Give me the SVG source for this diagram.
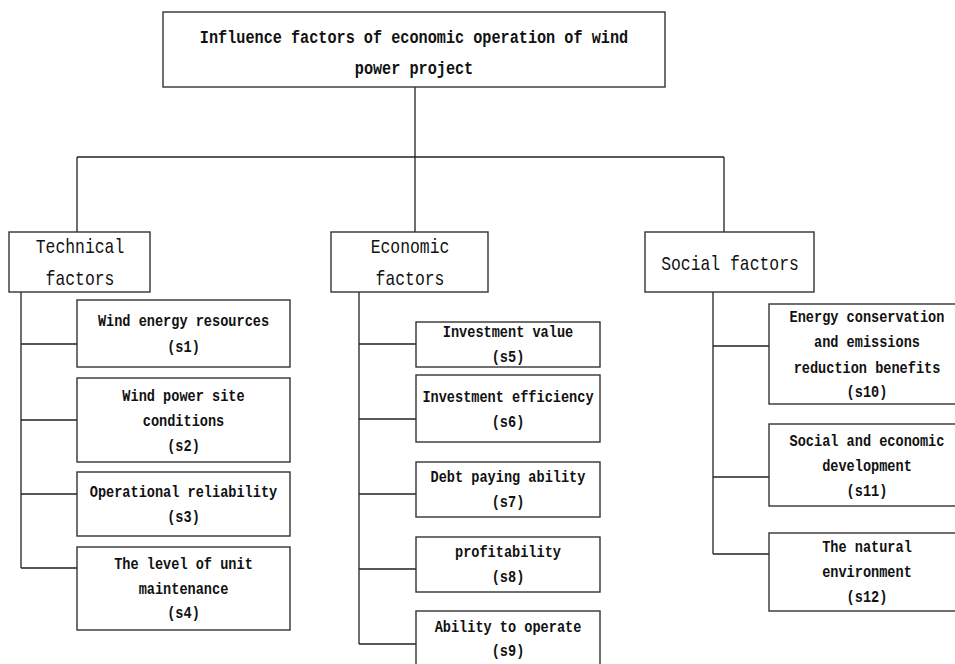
<svg xmlns="http://www.w3.org/2000/svg" width="955" height="664" viewBox="0 0 955 664">
<style>
.box { fill: #fff; stroke: #333; stroke-width: 1.4; }
.con { fill: none; stroke: #222; stroke-width: 1.3; }
text { font-family: "Liberation Mono", "DejaVu Sans Mono", monospace; text-anchor: middle; dominant-baseline: central; fill: #111; transform-box: fill-box; transform-origin: center; transform: scaleX(0.8); }
.s { font-size: 17px; font-weight: bold; }
.h { font-size: 19px; font-weight: bold; }
.c { font-size: 20.5px; }
</style>
<rect width="955" height="664" fill="#fff"/>
<g id="connectors" class="con">
  <path d="M415,87 V157 M77,157 H724 M77,157 V232 M415,157 V232 M724,157 V232"/>
  <path d="M21,292 V568 M21,344 H77 M21,420 H77 M21,494 H77 M21,568 H77"/>
  <path d="M359,292 V644 M359,344 H416 M359,419 H416 M359,494 H416 M359,569 H416 M359,644 H416"/>
  <path d="M713,292 V554 M713,346 H769 M713,477 H769 M713,554 H769"/>
</g>
<g id="root">
  <rect class="box" x="163" y="12" width="502" height="75"/>
  <text class="h" x="414" y="38">Influence factors of economic operation of wind</text>
  <text class="h" x="414" y="69">power project</text>
</g>
<g id="technical">
  <rect class="box" x="9" y="232" width="141" height="60"/>
  <text class="c" x="80" y="248">Technical</text>
  <text class="c" x="80" y="280">factors</text>
</g>
<g id="economic">
  <rect class="box" x="331" y="232" width="157" height="60"/>
  <text class="c" x="410" y="248">Economic</text>
  <text class="c" x="410" y="280">factors</text>
</g>
<g id="social">
  <rect class="box" x="645" y="232" width="169" height="60"/>
  <text class="c" x="730" y="265">Social factors</text>
</g>
<g id="s1">
  <rect class="box" x="77" y="300" width="213" height="67"/>
  <text class="s" x="183.5" y="322">Wind energy resources</text>
  <text class="s" x="183.5" y="348">(s1)</text>
</g>
<g id="s2">
  <rect class="box" x="77" y="378" width="213" height="84"/>
  <text class="s" x="183.5" y="397">Wind power site</text>
  <text class="s" x="183.5" y="422">conditions</text>
  <text class="s" x="183.5" y="447">(s2)</text>
</g>
<g id="s3">
  <rect class="box" x="77" y="472" width="213" height="64"/>
  <text class="s" x="183.5" y="493">Operational reliability</text>
  <text class="s" x="183.5" y="518">(s3)</text>
</g>
<g id="s4">
  <rect class="box" x="77" y="547" width="213" height="83"/>
  <text class="s" x="183.5" y="565">The level of unit</text>
  <text class="s" x="183.5" y="590">maintenance</text>
  <text class="s" x="183.5" y="614">(s4)</text>
</g>
<g id="s5">
  <rect class="box" x="416" y="322" width="184" height="45"/>
  <text class="s" x="508" y="333">Investment value</text>
  <text class="s" x="508" y="358">(s5)</text>
</g>
<g id="s6">
  <rect class="box" x="416" y="375" width="184" height="67"/>
  <text class="s" x="508" y="398">Investment efficiency</text>
  <text class="s" x="508" y="423">(s6)</text>
</g>
<g id="s7">
  <rect class="box" x="416" y="462" width="184" height="55"/>
  <text class="s" x="508" y="478">Debt paying ability</text>
  <text class="s" x="508" y="503">(s7)</text>
</g>
<g id="s8">
  <rect class="box" x="416" y="537" width="184" height="55"/>
  <text class="s" x="508" y="553">profitability</text>
  <text class="s" x="508" y="578">(s8)</text>
</g>
<g id="s9">
  <rect class="box" x="416" y="611" width="184" height="60"/>
  <text class="s" x="508" y="628">Ability to operate</text>
  <text class="s" x="508" y="652">(s9)</text>
</g>
<g id="s10">
  <rect class="box" x="769" y="304" width="200" height="100"/>
  <text class="s" x="867" y="318">Energy conservation</text>
  <text class="s" x="867" y="343">and emissions</text>
  <text class="s" x="867" y="369">reduction benefits</text>
  <text class="s" x="867" y="393">(s10)</text>
</g>
<g id="s11">
  <rect class="box" x="769" y="424" width="200" height="82"/>
  <text class="s" x="867" y="442">Social and economic</text>
  <text class="s" x="867" y="467">development</text>
  <text class="s" x="867" y="492">(s11)</text>
</g>
<g id="s12">
  <rect class="box" x="769" y="533" width="200" height="78"/>
  <text class="s" x="867" y="548">The natural</text>
  <text class="s" x="867" y="573">environment</text>
  <text class="s" x="867" y="598">(s12)</text>
</g>
</svg>
